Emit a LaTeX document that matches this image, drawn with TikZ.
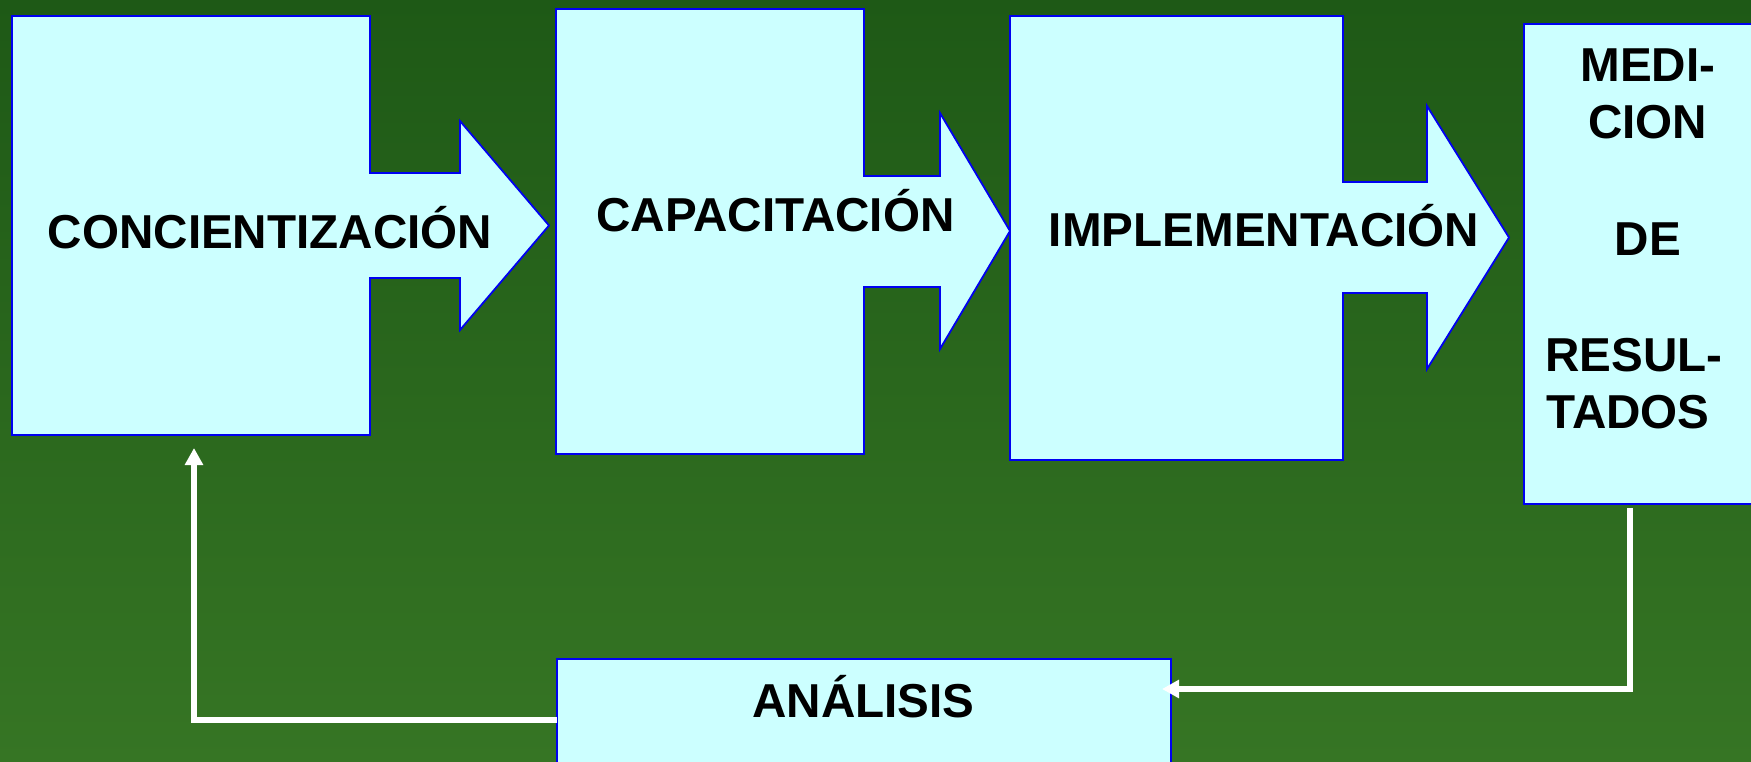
\documentclass[tikz,border=0pt]{standalone}
\usepackage{fontspec}
\setmainfont{Liberation Sans}
\usetikzlibrary{arrows.meta}
\definecolor{bgtop}{HTML}{1E5916}
\definecolor{bgbot}{HTML}{367524}
\definecolor{boxfill}{HTML}{CCFFFF}
\definecolor{boxline}{HTML}{0000F0}
\tikzset{
  boxshape/.style={fill=boxfill, draw=boxline, line width=1.8pt, line join=miter},
  frame/.style={inner sep=0pt, outer sep=0pt, minimum width=#1, draw=none},
  lbl/.style={anchor=base, inner sep=0pt, font=\bfseries\fontsize{47.6}{57.5}\selectfont, text=black},
  conn/.style={draw=white, line width=5.5pt, -{Triangle[length=17pt,width=17.5pt]}}
}
\begin{document}
\begin{tikzpicture}[x=1pt,y=-1pt]
\useasboundingbox (0,0) rectangle (1751,762);
\clip (0,0) rectangle (1751,762);
\shade[top color=bgtop, bottom color=bgbot] (0,0) rectangle (1751,762);

% box 1
\coordinate (b1nw) at (12,16); \coordinate (b1se) at (370,435);
\draw[boxshape] (b1nw) -- (370,16) -- (370,173) -- (460,173) -- (460,121) -- (549,225.5)
  -- (460,330) -- (460,278) -- (370,278) -- (b1se) -- (12,435) -- cycle;
% box 2
\coordinate (b2nw) at (556,9); \coordinate (b2se) at (864,454);
\draw[boxshape] (b2nw) -- (864,9) -- (864,176) -- (940,176) -- (940,113) -- (1010,231)
  -- (940,349) -- (940,287) -- (864,287) -- (b2se) -- (556,454) -- cycle;
% box 3
\coordinate (b3nw) at (1010,16); \coordinate (b3se) at (1343,460);
\draw[boxshape] (b3nw) -- (1343,16) -- (1343,182) -- (1427,182) -- (1427,106) -- (1509,237.5)
  -- (1427,369) -- (1427,293) -- (1343,293) -- (b3se) -- (1010,460) -- cycle;
% box 4
\coordinate (b4nw) at (1524,24); \coordinate (b4se) at (1770,504);
\draw[boxshape] (b4nw) rectangle (b4se);
% analisis box
\coordinate (anw) at (557,659); \coordinate (ase) at (1171,790);
\draw[boxshape] (anw) rectangle (ase);

% labels
\node[lbl] (t1) at (270,248) {CONCIENTIZACIÓN};
\node[lbl] (t2) at (775.5,232) {CAPACITACIÓN};
\node[lbl] (t3) at (1264,247) {IMPLEMENTACIÓN};
\node[lbl] (t5) at (863.5,717) {ANÁLISIS};
\node[lbl] (m1) at (1648,82) {MEDI-};
\node[lbl] (m2) at (1647.5,139) {CION};
\node[lbl] (m3) at (1648,255) {DE};
\node[lbl] (m4) at (1634,371) {RESUL-};
\node[lbl] (m5) at (1628,428) {TADOS};

% connectors
\coordinate (c1) at (1630,508);
\coordinate (c2) at (1162,689);
\coordinate (c3) at (557,720);
\coordinate (c4) at (194,448);
\draw[conn] (c1) |- (c2);
\draw[conn] (c3) -| (c4);
\end{tikzpicture}
\end{document}
